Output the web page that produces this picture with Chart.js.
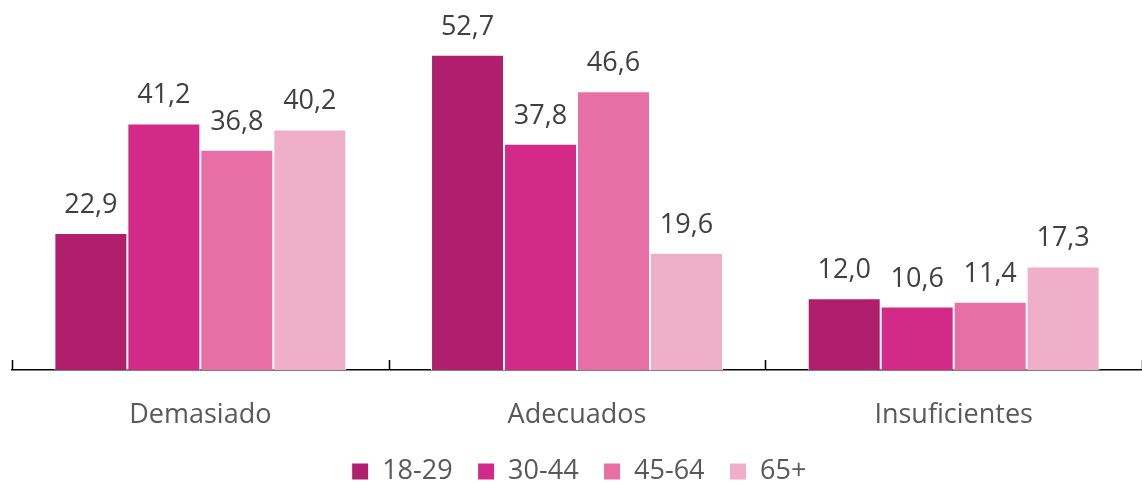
<!DOCTYPE html>
<html>
<head>
<meta charset="utf-8">
<script src="https://cdn.jsdelivr.net/npm/chart.js@4"></script>
<style>
  html, body { margin: 0; padding: 0; background: #fff; }
  #wrap { width: 1142px; height: 484px; }
</style>
</head>
<body>
<div id="wrap"><canvas id="chart"></canvas></div>
<script>
const categories = ['Demasiado', 'Adecuados', 'Insuficientes'];
const groups = ['18-29', '30-44', '45-64', '65+'];
const v18_29 = [22.9, 52.7, 12.0];
const v30_44 = [41.2, 37.8, 10.6];
const v45_64 = [36.8, 46.6, 11.4];
const v65 = [40.2, 19.6, 17.3];
const colors = ['#B01F6E', '#D42A87', '#E76FA5', '#EFAFC8'];

const FONT = '"Open Sans", sans-serif';

// value labels above each bar, comma decimal
const barLabels = {
    id: 'barLabels',
    afterDatasetsDraw(chart){
        const ctx = chart.ctx;
        ctx.save();
        ctx.font = '27px ' + FONT;
        ctx.fillStyle = '#404040';
        ctx.textAlign = 'center';
        ctx.textBaseline = 'alphabetic';
        chart.data.datasets.forEach((ds, i) => {
            chart.getDatasetMeta(i).data.forEach((bar, j) => {
                ctx.fillText(ds.data[j].toFixed(1).replace('.', ','), bar.x, bar.y - 20);
            });
        });
        ctx.restore();
    }
};

// small upward tick marks at the category boundaries
const upTicks = {
    id: 'upTicks',
    afterDraw(chart){
        const x = chart.scales.x;
        const bottom = chart.chartArea.bottom;
        const ctx = chart.ctx;
        ctx.save();
        ctx.strokeStyle = '#000';
        ctx.lineWidth = 1.5;
        ctx.beginPath();
        for(let i = 0; i <= categories.length; i++){
            let px = x.getPixelForValue(i - 0.5);
            px = Math.round(px) + 0.5;
            ctx.moveTo(px, bottom - 10);
            ctx.lineTo(px, bottom);
        }
        ctx.stroke();
        ctx.restore();
    }
};

const data = {
    labels: categories,
    datasets: [
        { label: groups[0], data: v18_29, backgroundColor: colors[0] },
        { label: groups[1], data: v30_44, backgroundColor: colors[1] },
        { label: groups[2], data: v45_64, backgroundColor: colors[2] },
        { label: groups[3], data: v65, backgroundColor: colors[3] }
    ]
};
data.datasets.forEach(ds => {
    ds.borderColor = '#ffffff';
    ds.borderWidth = 1;
    ds.categoryPercentage = 0.775;
    ds.barPercentage = 1.0;
});

const config = {
    type: 'bar',
    data,
    options: {
        responsive: true,
        maintainAspectRatio: false,
        animation: false,
        layout: { padding: { left: 12, right: -4, top: 11, bottom: 0 } },
        plugins: {
            legend: {
                position: 'bottom',
                maxHeight: 51,
                labels: {
                    boxWidth: 17,
                    boxHeight: 17,
                    padding: 25,
                    color: '#595959',
                    font: { family: FONT, size: 27 }
                }
            },
            tooltip: { enabled: false }
        },
        scales: {
            x: {
                grid: { display: false, drawTicks: false },
                border: { display: true, color: '#000', width: 1.5 },
                ticks: {
                    color: '#595959',
                    padding: 29,
                    font: { family: FONT, size: 27 }
                },
                afterFit(scale){
                    scale.height = 63;
                }
            },
            y: {
                display: false,
                min: 0,
                max: 60
            }
        }
    },
    plugins: [barLabels, upTicks]
};

new Chart(document.getElementById('chart'), config);
</script>
</body>
</html>
